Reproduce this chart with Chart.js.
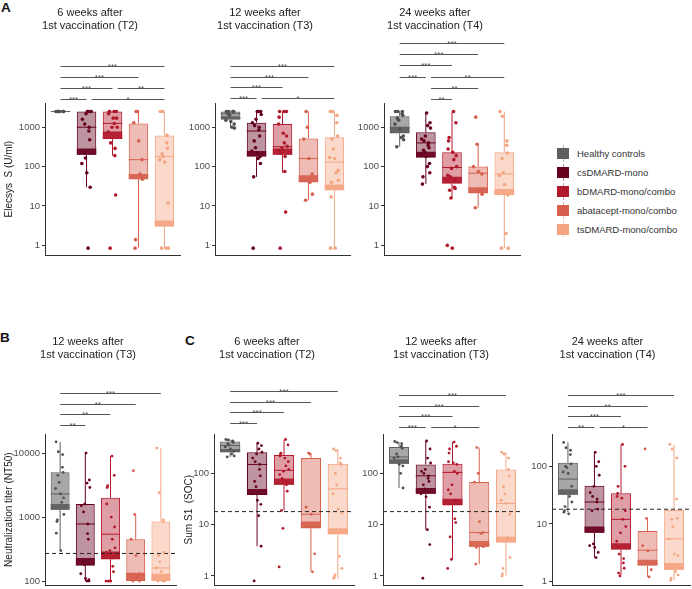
<!DOCTYPE html>
<html><head><meta charset="utf-8">
<script src="https://cdn.jsdelivr.net/npm/chart.js@4"></script>
<style>
html,body{margin:0;padding:0;background:#fff;width:692px;height:589px;overflow:hidden;font-family:"Liberation Sans",Arial,sans-serif;position:relative;}
canvas{position:absolute;}
.plab{position:absolute;font-weight:bold;font-size:13.5px;line-height:14px;color:#111;}
#legend{position:absolute;left:557px;top:143.5px;width:130px;height:100px;}
.lrow{position:absolute;left:0;height:19px;width:130px;white-space:nowrap;}
.kline{position:absolute;left:5.5px;top:1px;width:1px;height:17px;opacity:0.45;}
.key{position:absolute;left:0;top:4px;width:12px;height:11px;}
.ltxt{position:absolute;left:20px;top:0;line-height:19px;font-size:9.5px;color:#333;}
</style></head>
<body>
<div class="plab" style="left:1px;top:1px">A</div>
<div class="plab" style="left:0px;top:331px">B</div>
<div class="plab" style="left:185px;top:334px">C</div>
<div id="legend"></div>
<script>
// ---------------- DATA ----------------
const GROUPS = ['Healthy controls','csDMARD-mono','bDMARD-mono/combo','abatacept-mono/combo','tsDMARD-mono/combo'];
const T2 = ['6 weeks after','1st vaccination (T2)'];
const T3 = ['12 weeks after','1st vaccination (T3)'];
const T4 = ['24 weeks after','1st vaccination (T4)'];
const Y_A = 'Elecsys  S (U/ml)';
const Y_B = 'Neutralization titer (NT50)';
const Y_C = 'Sum S1  (SOC)';
const A_TICKS = [1,10,100,1000];
const B_TICKS = [100,1000,10000];
const C_TICKS = [1,10,100];
const B_CUTOFF = 270;
const C_CUTOFF = 18;

// box stats per group: [whiskerLow, Q1, bandTop, median, Q3, whiskerHigh]
const A1_BOX = [[2500,2500,2500,2500,2500,2500],[30,200,290,1000,2500,2500],[190,500,780,1250,2500,2500],[0.85,48,65,150,1250,2500],[0.85,3,4.3,180,620,2500]];
const A2_BOX = [[950,1560,1900,2200,2500,2500],[55,180,250,800,1300,2500],[70,200,290,320,1200,2500],[14,40,60,160,520,2500],[0.85,25,35,130,560,2500]];
const A3_BOX = [[320,700,1000,1000,1900,2500],[36,170,240,400,750,2300],[16,37,55,95,230,2500],[9,21,30,68,100,370],[0.85,19,27,65,230,2500]];
const B_BOX  = [[300,1300,1600,2300,5000,15000],[100,175,230,780,1600,10000],[100,220,290,540,2000,9000],[100,100,135,125,450,1100],[100,100,130,160,850,12000]];
const C1_BOX = [[210,260,300,350,420,460],[3.8,38,50,150,260,390],[19,60,80,115,230,460],[1.2,8.5,11.5,16,200,250],[0.9,6.5,8.5,50,155,300]];
const C2_BOX = [[52,155,190,210,330,410],[8,40,52,90,150,430],[2.1,24,32,105,155,410],[1.7,3.7,4.8,7,68,320],[1.0,4.5,5.8,26,120,260]];
const C3_BOX = [[16,32,40,60,115,260],[2.6,7,9,24,46,175],[1.3,3.6,4.6,12,34,240],[1.2,1.9,2.4,3.5,7.5,12.5],[1.05,1.6,2.1,5.5,17.5,240]];

// individual values per group
const A1_PTS = [
 [2500,2500,2500,2500,2500,2500,2500,2500],
 [2500,2500,2500,2500,2200,1600,1200,1000,800,480,220,165,120,70,30,0.85],
 [2500,2500,2500,2500,2200,1700,1700,1240,1000,1000,750,400,290,190,19,0.85],
 [2500,2500,1300,450,150,65,48,1.4,0.85],
 [2500,2500,620,400,290,210,180,150,130,12,0.85,0.85,0.85]];
const A2_PTS = [
 [2500,2500,2500,2500,2500,2200,2000,1500,1400,1200,1000,950],
 [2500,2500,2500,2100,1600,1300,1100,1000,850,600,450,300,250,220,180,160,120,55,0.85],
 [2500,2500,2500,1800,1200,700,600,400,330,300,260,220,180,75,7,0.85],
 [2500,1000,500,160,65,40,20,14],
 [2500,2500,2000,1300,600,500,280,170,160,80,70,45,40,17,0.85,0.85]];
const A3_PTS = [
 [2500,2500,2500,2200,2000,1700,1500,1200,900,600,550,480,320],
 [2300,1300,1100,950,600,500,450,400,350,300,260,230,200,180,120,100,70,55,36],
 [2500,1300,550,450,280,230,190,150,100,90,60,55,45,30,28,25,16,1.0,0.85],
 [1800,370,100,75,65,25,20,9],
 [2500,1900,450,350,220,160,70,60,35,19,2,0.85,0.85]];
const B_PTS = [
 [15000,10500,9500,6000,5000,4500,3500,2800,2300,2000,1700,1100,900,850,560,300],
 [10000,3800,3400,2900,1600,1500,1200,780,550,450,200,180,130,110,105,100,100],
 [9000,4500,3100,2900,1600,1000,700,450,330,300,280,260,230,170,140,100,100,100,100],
 [5300,1100,450,250,130,115,100,100],
 [12000,2400,900,850,280,250,200,160,140,120,100,100,100]];
const C1_PTS = [
 [460,450,430,420,400,380,360,330,300,270,240,220,210],
 [390,350,300,260,240,200,170,150,120,90,70,55,40,30,25,15,3.8,0.8],
 [460,360,250,240,220,200,170,140,120,110,95,80,70,60,45,19,8.5,1.5],
 [250,240,22,16,2.7,1.2],
 [300,280,200,160,150,100,60,40,20,17,2.4,1.4,1.05,0.95,0.9]];
const C2_PTS = [
 [420,400,380,340,310,240,210,200,150,140,100,52],
 [430,300,200,160,120,110,100,90,80,70,60,50,40,35,22,8,4.1,0.9],
 [410,340,300,250,170,160,150,110,100,60,48,40,30,13,11,5.8,2.1,1.4],
 [320,100,68,11.5,7,6.7,3.7,3.6,1.7],
 [260,240,200,120,90,55,40,30,26,16,5.6,2.3,1.4,1.1,1.0]];
const C3_PTS = [
 [260,210,190,160,110,100,95,80,75,45,30,24,20,17,16,15],
 [175,120,100,70,45,35,30,27,24,18,17,4.5,4.2,3.9,3.2,2.6],
 [240,100,45,34,30,28,17,12,9,7,5,3,2.5,2.1,1.7,1.4,1.25],
 [200,12.5,4.2,3.4,1.6,1.2],
 [240,200,140,27,12.5,12,9,5.5,3,2.8,1.5,1.3,1.15,1.05]];

// significance brackets: [groupFrom, groupTo, label, level]
const A1_SIG = [[1,2,'***',0],[2,5,'*',0],[1,3,'***',1],[3,5,'**',1],[1,4,'***',2],[1,5,'***',3]];
const A2_SIG = [[1,2,'***',0],[2,5,'*',0],[1,3,'***',1],[1,4,'***',2],[1,5,'***',3]];
const A3_SIG = [[2,3,'**',0],[2,4,'**',1],[1,2,'***',2],[2,5,'**',2],[1,3,'***',3],[1,4,'***',4],[1,5,'***',5]];
const B_SIG  = [[1,2,'**',0],[1,3,'**',1],[1,4,'**',2],[1,5,'***',3]];
const C1_SIG = [[1,2,'***',0],[1,3,'***',1],[1,4,'***',2],[1,5,'***',3]];
const C2_SIG = [[1,2,'***',0],[2,4,'*',0],[1,3,'***',1],[1,4,'***',2],[1,5,'***',3]];
const C3_SIG = [[1,2,'**',0],[2,4,'*',0],[1,3,'***',1],[1,4,'**',2],[1,5,'***',3]];

// ---------------- STYLE / LAYOUT ----------------
const FONT = '"Liberation Sans", Arial, sans-serif';
const LINE = ['#5e5e5e','#67001f','#b2182b','#d6604d','#f4a582'];
const FILL = ['rgba(94,94,94,0.55)','rgba(103,0,31,0.42)','rgba(178,24,43,0.42)','rgba(214,96,77,0.42)','rgba(244,165,130,0.42)'];
const BAND = ['rgba(94,94,94,0.92)','rgba(103,0,31,0.92)','rgba(178,24,43,0.92)','rgba(214,96,77,0.92)','rgba(244,165,130,0.92)'];
const DOT  = ['#505050','#67001f','#b2182b','#d6604d','#f4a582'];
const JIT = [-0.16,0.09,-0.04,0.14,-0.11,0.03,0.18,-0.07,0.12,-0.18,0.06,-0.13,0.16,-0.02,0.1,-0.09,0.01,0.15,-0.15,0.07];
const X_MIN = 0.4, X_MAX = 5.6, BOX_HALF = 0.375, X_AXIS_H = 6, TITLE_SIZE = 11;

const panels = [
 {box:A1_BOX, pts:A1_PTS, ticks:A_TICKS, range:[0.56,4120], title:T2, sig:A1_SIG, ylabel:Y_A, cutoff:null,
  lay:{left:0,top:0,width:214,axisX:45,right:180,chartTop:103,chartBottom:257,base:4,step:11,r:1.8,ytp:3}},
 {box:A2_BOX, pts:A2_PTS, ticks:A_TICKS, range:[0.56,4120], title:T3, sig:A2_SIG, ylabel:null, cutoff:null,
  lay:{left:180,top:0,width:204,axisX:215,right:350,chartTop:103,chartBottom:257,base:5,step:10.7,r:1.8}},
 {box:A3_BOX, pts:A3_PTS, ticks:A_TICKS, range:[0.56,4120], title:T4, sig:A3_SIG, ylabel:null, cutoff:null,
  lay:{left:350,top:0,width:190,axisX:384,right:520,chartTop:103,chartBottom:257,base:4,step:11.2,r:1.8}},
 {box:B_BOX, pts:B_PTS, ticks:B_TICKS, range:[85.8,19900], title:T3, sig:B_SIG, ylabel:Y_B, cutoff:B_CUTOFF,
  lay:{left:0,top:329,width:214,axisX:45,right:176,chartTop:434,chartBottom:587,base:9,step:10.7,r:1.4,ytp:3}},
 {box:C1_BOX, pts:C1_PTS, ticks:C_TICKS, range:[0.656,589], title:T2, sig:C1_SIG, ylabel:Y_C, cutoff:C_CUTOFF,
  lay:{left:180,top:329,width:200,axisX:214,right:354,chartTop:434,chartBottom:587,base:11,step:10.7,r:1.4,ytp:3.5}},
 {box:C2_BOX, pts:C2_PTS, ticks:C_TICKS, range:[0.656,589], title:T3, sig:C2_SIG, ylabel:null, cutoff:C_CUTOFF,
  lay:{left:360,top:329,width:174,axisX:383,right:522,chartTop:434,chartBottom:587,base:7,step:10.7,r:1.4}},
 {box:C3_BOX, pts:C3_PTS, ticks:C_TICKS, range:[0.86,364], title:T4, sig:C3_SIG, ylabel:null, cutoff:C_CUTOFF,
  lay:{left:525,top:329,width:186,axisX:552,right:690,chartTop:434,chartBottom:587,base:7,step:10.7,r:1.4}}
];

Chart.defaults.font.family = FONT;

function makeSig(list, L){
  return {
    id:'sig',
    afterDraw(chart){
      const xs = chart.scales.x, ctx = chart.ctx, top = chart.chartArea.top;
      ctx.save();
      ctx.strokeStyle = '#555'; ctx.lineWidth = 1;
      ctx.fillStyle = '#555'; ctx.font = '8px ' + FONT;
      ctx.textAlign = 'center'; ctx.textBaseline = 'alphabetic';
      list.forEach(([a,b,label,level]) => {
        const y = Math.round(top - L.base - level*L.step) + 0.5;
        const x1 = xs.getPixelForValue(a === 1 ? a : a + 0.2);
        const x2 = xs.getPixelForValue(b);
        ctx.beginPath(); ctx.moveTo(x1,y); ctx.lineTo(x2,y); ctx.stroke();
        ctx.fillText(label, (x1+x2)/2, y + 2);
      });
      ctx.restore();
    }
  };
}

panels.forEach(p => {
  const L = p.lay;
  const cv = document.createElement('canvas');
  const h = L.chartBottom - L.top + X_AXIS_H;
  cv.width = L.width; cv.height = h;
  cv.style.left = L.left + 'px'; cv.style.top = L.top + 'px';
  cv.style.width = L.width + 'px'; cv.style.height = h + 'px';
  document.body.appendChild(cv);
  const lh = TITLE_SIZE * 1.2;
  const padTop = 13 - lh/2;
  const padBottom = (L.chartTop - L.top) - padTop - 2*lh;

  const ds = [];
  ds.push({type:'bar', data:p.box.map((b,i)=>({x:i+1, y:[b[1], b[4]]})),
    backgroundColor:FILL, borderColor:LINE, borderWidth:1, borderSkipped:false,
    grouped:false, barPercentage:0.75, categoryPercentage:1, order:6});
  ds.push({type:'bar', data:p.box.map((b,i)=>({x:i+1, y:[b[1], b[2]]})),
    backgroundColor:BAND, borderWidth:0, grouped:false, barPercentage:0.75, categoryPercentage:1, order:5});
  p.box.forEach((b,i) => {
    const g = i+1;
    ds.push({type:'line', data:[{x:g,y:b[0]},{x:g,y:b[1]},{x:g,y:null},{x:g,y:b[4]},{x:g,y:b[5]},{x:g,y:null},
      {x:g-BOX_HALF,y:b[3]},{x:g+BOX_HALF,y:b[3]}],
      borderColor:LINE[i], borderWidth:1, pointRadius:0, spanGaps:false, fill:false, order:4});
  });
  if (p.cutoff) {
    ds.push({type:'line', data:[{x:X_MIN,y:p.cutoff},{x:X_MAX,y:p.cutoff}],
      borderColor:'#222', borderDash:[4,3], borderWidth:1, pointRadius:0, fill:false, order:3});
  }
  p.pts.forEach((arr,i) => {
    const g = i+1;
    ds.push({type:'scatter', data:arr.map((v,k)=>({x:g + JIT[(k*7 + i*5) % JIT.length], y:v})),
      backgroundColor:DOT[i], borderWidth:0, pointRadius:L.r, order:1});
  });

  new Chart(cv, {
    type:'bar',
    data:{datasets:ds},
    options:{
      responsive:false, animation:false, events:[],
      layout:{padding:{left:0, right:L.left + L.width - L.right, top:0, bottom:0}},
      plugins:{
        legend:{display:false}, tooltip:{enabled:false},
        title:{display:true, text:p.title, color:'#222', align:'center',
          font:{family:FONT, size:TITLE_SIZE, weight:'normal', lineHeight:1.2},
          padding:{top:padTop, bottom:padBottom}}
      },
      scales:{
        x:{type:'linear', min:X_MIN, max:X_MAX, offset:false,
          ticks:{display:false}, grid:{display:false},
          border:{display:true, color:'#333', width:1},
          afterFit:s => { s.height = X_AXIS_H; }},
        y:{type:'logarithmic', min:p.range[0], max:p.range[1],
          afterBuildTicks:s => { s.ticks = p.ticks.map(v => ({value:v})); },
          ticks:{callback:v => String(v), color:'#4d4d4d', font:{family:FONT, size:9.5}, padding:2, autoSkip:false},
          grid:{display:true, drawOnChartArea:false, drawTicks:true, tickLength:3, color:'#333'},
          border:{display:true, color:'#333', width:1},
          title:{display:!!p.ylabel, text:p.ylabel || '', color:'#222', font:{family:FONT, size:10},
            padding:{top:L.ytp || 3, bottom:0}},
          afterFit:s => { s.width = L.axisX - L.left; }}
      }
    },
    plugins:[makeSig(p.sig, L)]
  });
});

// legend
const lg = document.getElementById('legend');
GROUPS.forEach((g,i) => {
  const row = document.createElement('div');
  row.className = 'lrow';
  row.style.top = (i*19.1) + 'px';
  row.innerHTML = '<span class="kline" style="background:' + LINE[i] + '"></span>' +
    '<span class="key" style="background:' + LINE[i] + '"></span>' +
    '<span class="ltxt">' + g + '</span>';
  lg.appendChild(row);
});
</script>
</body></html>
